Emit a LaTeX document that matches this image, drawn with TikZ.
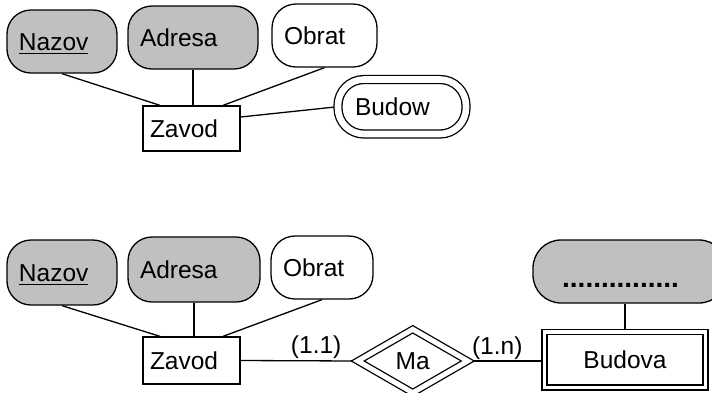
\documentclass[tikz,border=0pt]{standalone}
\usepackage{fontspec}
\setmainfont{Liberation Sans}
\usetikzlibrary{shapes.geometric,backgrounds,calc}
\definecolor{attrgray}{RGB}{192,192,192}
% underlined key attribute name
\newcommand\keyul[1]{\setbox0\hbox{#1}\rlap{\rule[-4pt]{\wd0}{1.3pt}}#1}

\begin{document}
\begin{tikzpicture}[x=1pt,y=-1pt,
  every node/.style={font=\fontsize{24.5}{28}\selectfont, line width=1.3pt,
    inner sep=0pt, text height=17pt, text depth=0pt},
  attr/.style={draw, rounded corners=24pt, minimum height=63pt, align=left, inner xsep=12pt},
  keyattr/.style={attr, fill=attrgray},
  entity/.style={draw, minimum height=45pt, align=left, inner xsep=7pt},
  conn/.style={line width=1.3pt},
  card/.style={anchor=base, yshift=7pt},
]
\useasboundingbox (0,0) rectangle (712,392);
\clip (0,0) rectangle (712,392);

% ---------- upper schema ----------
\node[keyattr, text width=86pt] (nazovA) at (62,41.5) {\keyul{Nazov}};
\node[keyattr, text width=106pt] (adresaA) at (193,37.5) {Adresa};
\node[attr, text width=81pt] (obratA) at (324.5,35.5) {Obrat};
\node[entity, text width=83pt] (zavodA) at (191.5,128.5) {Zavod};
\node[draw, double, double distance=6.6pt, rounded corners=26pt, minimum height=54.5pt,
      align=left, inner xsep=17pt, text width=94pt] (budow) at (402,106.75) {Budow};

% ---------- lower schema ----------
\node[keyattr, minimum height=65pt, text width=86pt] (nazovB) at (62,272.5) {\keyul{Nazov}};
\node[keyattr, minimum height=65pt, text width=108pt] (adresaB) at (194,269.5) {Adresa};
\node[attr, text width=78pt] (obratB) at (322,267.5) {Obrat};
\node[entity, minimum height=47pt, text width=83pt] (zavodB) at (191.5,360.5) {Zavod};
\node[draw, diamond, double, double distance=5pt, minimum width=110.5pt,
      minimum height=64pt] (ma) at (412.75,361) {Ma};
\node[draw, double, double distance=3.6pt, minimum width=161pt, minimum height=55.5pt]
      (budova) at (625,359.75) {Budova};
\node[draw, fill=attrgray, rounded corners=28pt, minimum width=194pt, minimum height=63pt]
      (dots) at (630,271.5) {};
\node[anchor=base, font=\fontsize{28}{30}\selectfont\bfseries] (dotstext) at (620.5,287.5)
      {...............};

% ---------- connectors ----------
\begin{scope}[on background layer]
  \draw[conn] (nazovA.south) -- ([xshift=-31.5pt]zavodA.north);
  \draw[conn] (adresaA.south) -- (adresaA.south |- zavodA.north);
  \draw[conn] (obratA.south) -- ([xshift=31.5pt]zavodA.north);
  \draw[conn] ([yshift=11.5pt]zavodA.east) -- (budow.west);

  \draw[conn] (nazovB.south) -- ([xshift=-31.5pt]zavodB.north);
  \draw[conn] (adresaB.south) -- (adresaB.south |- zavodB.north);
  \draw[conn] (obratB.south) -- ([xshift=31.5pt]zavodB.north);
  \draw[conn] (zavodB.east) -- node[card, pos=0.65] (c11) {(1.1)} (ma.west);
  \draw[conn] (ma.east) -- node[card, pos=0.38] (c1n) {(1.n)} (ma.east -| budova.west);
  \draw[conn] (budova.north) -- (budova.north |- dots.south);
\end{scope}
\end{tikzpicture}
\end{document}
